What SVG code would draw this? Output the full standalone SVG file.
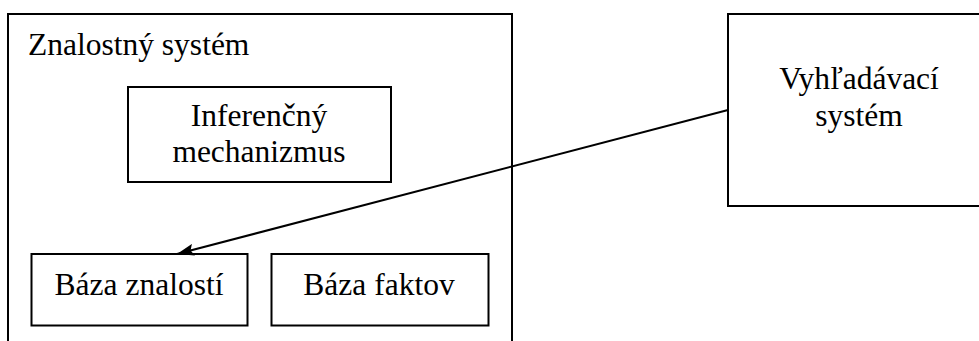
<svg xmlns="http://www.w3.org/2000/svg" width="979" height="341" viewBox="0 0 979 341">
  <style>
    .box { fill: none; stroke: #000; stroke-width: 2; }
    .t { font-family: "Liberation Serif", "Times New Roman", serif; font-size: 31.5px; fill: #000; }
    .c { text-anchor: middle; }
    .edge { stroke: #000; stroke-width: 2; fill: none; }
  </style>
  <defs>
    <marker id="arrow" viewBox="0 0 17 12" refX="17" refY="6" markerWidth="17" markerHeight="12" markerUnits="userSpaceOnUse" orient="auto">
      <path d="M0,0 L17,6 L0,12 L3,6 Z" fill="#000"/>
    </marker>
  </defs>
  <rect width="979" height="341" fill="#fff"/>
  <g id="znalostny-system">
    <rect class="box" x="8" y="14" width="504" height="400"/>
    <text class="t" x="28" y="55">Znalostný systém</text>
  </g>
  <g id="inferencny-mechanizmus">
    <rect class="box" x="128" y="87" width="263" height="95"/>
    <text class="t c" x="259" y="126">Inferenčný</text>
    <text class="t c" x="259" y="162">mechanizmus</text>
  </g>
  <g id="baza-znalosti">
    <rect class="box" x="31.5" y="254" width="216" height="71.5"/>
    <text class="t c" x="139" y="295">Báza znalostí</text>
  </g>
  <g id="baza-faktov">
    <rect class="box" x="271.5" y="254" width="217" height="71.5"/>
    <text class="t c" x="379" y="295">Báza faktov</text>
  </g>
  <g id="vyhladavaci-system">
    <rect class="box" x="728" y="14" width="300" height="192"/>
    <text class="t c" x="859" y="89">Vyhľadávací</text>
    <text class="t c" x="859" y="126">systém</text>
  </g>
  <g id="connectors">
    <line class="edge" x1="728" y1="110" x2="177" y2="254" marker-end="url(#arrow)"/>
  </g>
</svg>
